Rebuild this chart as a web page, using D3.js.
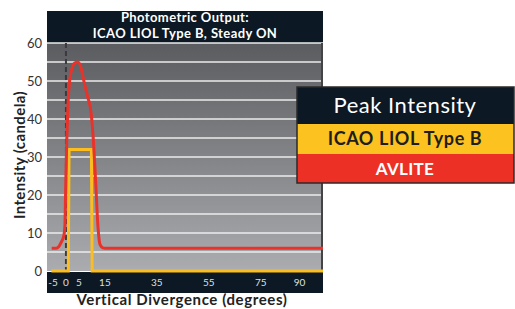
<!DOCTYPE html>
<meta charset="utf-8">
<style>
body { margin: 0; background: #fff; font-family: Lato, "DejaVu Sans", sans-serif; }
.ytick { font-size: 13px; fill: #333; }
.xtick { font-size: 10px; fill: #dde0e4; }
</style>
<body>
<svg width="515" height="309"></svg>
<script src="https://cdn.jsdelivr.net/npm/d3@7"></script>
<script>

// Data
var xTicks = [-5, 0, 5, 15, 35, 55, 75, 90];
var yTicks = [0, 10, 20, 30, 40, 50, 60];
var icaoX = [-5.6, 0.9, 1.2, 9.8, 10.1, 99];
var icaoY = [0, 0, 32, 32, 0, 0];
var avliteX = [-5.5, -3.8, -2.8, -1.8, -0.8, -0.4, -0.1, 0.3, 0.8, 1.4, 2.4, 3.5, 4.6, 5.8, 6.9, 8.3, 9.7, 10.6, 11.4, 12.4, 13.1, 14.2, 15, 99];
var avliteY = [6, 6, 6.4, 7.6, 9.3, 12, 22, 34, 44, 50, 53.5, 54.8, 55, 53.5, 50, 46, 41.5, 34, 24, 11, 7, 6.1, 6, 6];
var legendLabels = ["Peak Intensity", "ICAO LIOL Type B", "AVLITE"];

var svg = d3.select("svg"),
    margin = {left: 47, right: 192, top: 43, bottom: 38},
    width = 515 - margin.left - margin.right,
    height = 309 - margin.top - margin.bottom;

var navy = "#0c1823";

var x = d3.scaleLinear().domain([-7.3, 99]).range([0, width]),
    y = d3.scaleLinear().domain([0, 60]).range([height, 0]);

var defs = svg.append("defs");
var grad = defs.append("linearGradient").attr("id", "bg")
    .attr("x1", 0).attr("y1", 0).attr("x2", 0).attr("y2", 1);
grad.append("stop").attr("offset", "0%").attr("stop-color", "#5b5c60");
grad.append("stop").attr("offset", "100%").attr("stop-color", "#abacb0");

var g = svg.append("g")
    .attr("transform", "translate(" + margin.left + "," + margin.top + ")");

// title band
g.append("rect")
    .attr("x", 0).attr("y", -32)
    .attr("width", width).attr("height", 32)
    .attr("fill", navy);
g.append("text")
    .attr("x", width / 2).attr("y", -21)
    .attr("text-anchor", "middle")
    .style("font-size", "13px").style("font-weight", "bold")
    .style("letter-spacing", "0.4px")
    .attr("fill", "#fff")
    .text("Photometric Output:");
g.append("text")
    .attr("x", width / 2).attr("y", -5)
    .attr("text-anchor", "middle")
    .style("font-size", "13px").style("font-weight", "bold")
    .style("letter-spacing", "0.4px")
    .attr("fill", "#fff")
    .text("ICAO LIOL Type B, Steady ON");

// plot background
g.append("rect")
    .attr("width", width).attr("height", height)
    .attr("fill", "url(#bg)");

// gridlines every 5
g.selectAll(".grid")
    .data(d3.range(5, 61, 5))
    .enter().append("line")
      .attr("x1", 0).attr("x2", width)
      .attr("y1", function(d) { return y(d); })
      .attr("y2", function(d) { return y(d); })
      .attr("stroke", "#ececec")
      .attr("stroke-width", 1.5);

// right border
g.append("line")
    .attr("x1", width - 1).attr("x2", width - 1)
    .attr("y1", 0).attr("y2", height)
    .attr("stroke", "#444").attr("stroke-width", 2);

// bottom band
g.append("rect")
    .attr("x", 0).attr("y", height + 1)
    .attr("width", width).attr("height", 21)
    .attr("fill", navy);

// y tick labels
g.selectAll(".ytick")
    .data(yTicks)
    .enter().append("text")
      .attr("class", "ytick")
      .attr("x", -5)
      .attr("y", function(d) { return y(d); })
      .attr("dy", "0.35em")
      .attr("text-anchor", "end")
      .text(function(d) { return d; });

// x tick labels
g.selectAll(".xtick")
    .data(xTicks)
    .enter().append("text")
      .attr("class", "xtick")
      .attr("x", function(d) { return x(d); })
      .attr("y", height + 15)
      .attr("text-anchor", "middle")
      .text(function(d) { return d; });

// dashed line at 0
g.append("line")
    .attr("x1", x(0)).attr("x2", x(0))
    .attr("y1", 0).attr("y2", height)
    .attr("stroke", "#3a3a3c")
    .attr("stroke-width", 2)
    .attr("stroke-dasharray", "5,3");

var line = d3.line()
    .x(function(d) { return x(d[0]); })
    .y(function(d) { return y(d[1]); });

g.append("path")
    .datum(d3.zip(icaoX, icaoY))
    .attr("fill", "none")
    .attr("stroke", "#fbbd1f")
    .attr("stroke-width", 3)
    .attr("d", line);

g.append("path")
    .datum(d3.zip(avliteX, avliteY))
    .attr("fill", "none")
    .attr("stroke", "#e9332a")
    .attr("stroke-width", 3)
    .attr("d", line.curve(d3.curveMonotoneX));

// axis titles
svg.append("text")
    .attr("transform", "translate(25," + (margin.top + height / 2 - 2) + ") rotate(-90)")
    .attr("text-anchor", "middle")
    .style("font-size", "15px").style("font-weight", "bold")
    .style("letter-spacing", "0.4px")
    .attr("fill", "#222")
    .text("Intensity (candela)");

svg.append("text")
    .attr("x", margin.left + width / 2 - 3)
    .attr("y", 305)
    .attr("text-anchor", "middle")
    .style("font-size", "15px").style("font-weight", "bold")
    .style("letter-spacing", "0.6px")
    .attr("fill", "#222")
    .text("Vertical Divergence (degrees)");

// legend
var lg = svg.append("g").attr("transform", "translate(297,87)");
var rows = [
  {h: 37, fill: navy, color: "#fff", size: 22, weight: "normal", ls: 0.5},
  {h: 30, fill: "#fcc21f", color: "#1e1e1e", size: 18, weight: "bold", ls: 0.6},
  {h: 29, fill: "#ec3025", color: "#fff", size: 17, weight: "bold", ls: 0.3}
];
var yy = 0;
rows.forEach(function(r, i) {
  lg.append("rect")
    .attr("x", 0).attr("y", yy)
    .attr("width", 217).attr("height", r.h)
    .attr("fill", r.fill);
  lg.append("text")
    .attr("x", 108).attr("y", yy + r.h / 2)
    .attr("dy", "0.36em")
    .attr("text-anchor", "middle")
    .style("font-size", r.size + "px")
    .style("font-weight", r.weight)
    .style("letter-spacing", r.ls + "px")
    .attr("fill", r.color)
    .text(legendLabels[i]);
  yy += r.h;
});
lg.append("rect")
    .attr("width", 217).attr("height", yy)
    .attr("fill", "none")
    .attr("stroke", "#2a2a2a")
    .attr("stroke-width", 1.5);

</script>
